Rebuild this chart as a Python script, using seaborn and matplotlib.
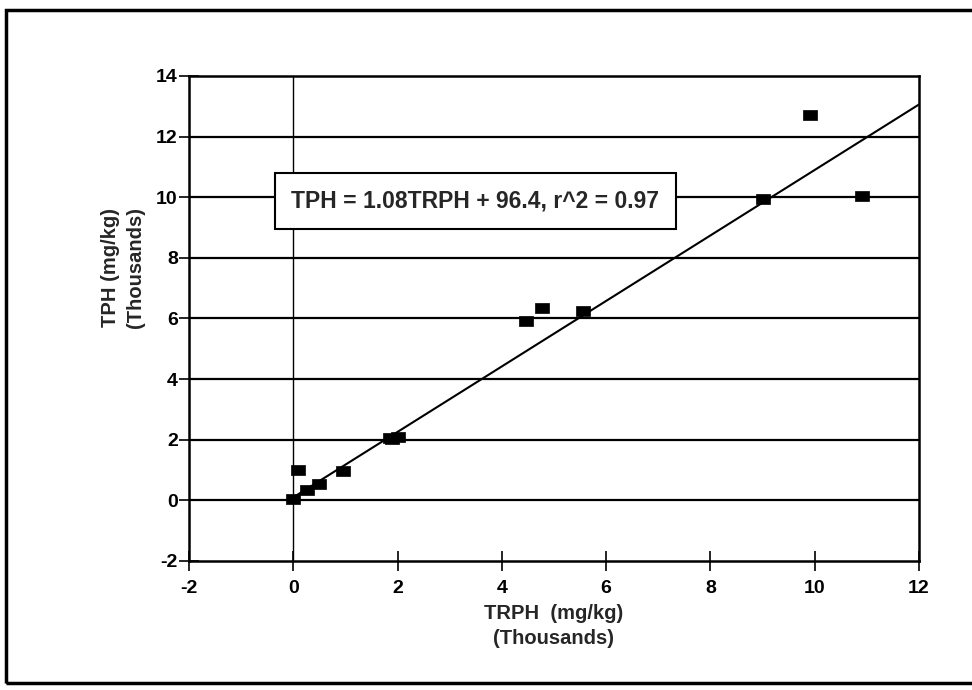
import numpy as np
import pandas as pd
import matplotlib
matplotlib.use("Agg")
import matplotlib.pyplot as plt
import seaborn as sns
from matplotlib.patches import Rectangle

# ---- data (thousands of mg/kg) ----
trph = [0.0, 0.1, 0.27, 0.5, 0.96, 1.85, 1.9, 2.0, 4.47, 4.78, 5.56, 9.01, 9.92, 10.91]
tph = [0.05, 1.0, 0.33, 0.55, 0.97, 2.05, 2.03, 2.1, 5.9, 6.35, 6.25, 9.95, 12.7, 10.05]
fit_slope = 1.08
fit_intercept = 0.0964
fit_range = [0.0, 12.0]
x_ticks = [-2, 0, 2, 4, 6, 8, 10, 12]
y_ticks = [-2, 0, 2, 4, 6, 8, 10, 12, 14]
equation = "TPH = 1.08TRPH + 96.4, r^2 = 0.97"

sns.set_style("white")
plt.rcParams['font.family'] = ['Liberation Sans', 'DejaVu Sans']
plt.rcParams['font.weight'] = 'bold'

fig = plt.figure(figsize=(9.72, 6.9), dpi=100)
ax = fig.add_axes([0.1944, 0.187, 0.751, 0.703])

# outer frame
fig.patches.append(Rectangle((0.006, 0.010), 1.2, 0.975, transform=fig.transFigure,
                             fill=False, edgecolor='black', linewidth=2.5))

# gridlines
for yv in y_ticks[1:-1]:
    ax.axhline(yv, color='black', linewidth=1.6, zorder=1)
ax.axvline(0, color='black', linewidth=1.0, zorder=1)

# regression line
fx = np.array(fit_range)
fy = fit_slope * fx + fit_intercept
sns.lineplot(x=fx, y=fy, color='black', linewidth=1.5, ax=ax, zorder=2)

rect_marker = [(-1.3, -1.0), (1.3, -1.0), (1.3, 1.0), (-1.3, 1.0), (-1.3, -1.0)]
df = pd.DataFrame({'TRPH': trph, 'TPH': tph})
sns.scatterplot(data=df, x='TRPH', y='TPH', marker=rect_marker, s=105, color='black',
                edgecolor='black', linewidth=0.5, ax=ax, zorder=3)

ax.set_xlim(-2, 12)
ax.set_ylim(-2, 14)
ax.set_xticks(x_ticks)
ax.set_yticks(y_ticks)
ax.set_xticklabels([str(v) for v in x_ticks], fontsize=14, fontweight='bold')
ax.set_yticklabels([str(v) for v in y_ticks], fontsize=14, fontweight='bold')
ax.tick_params(axis='both', direction='inout', length=14, width=1.2, colors='black',
               left=True, bottom=True)
ax.tick_params(axis='y', pad=1)
ax.tick_params(axis='x', pad=7)
for sp in ax.spines.values():
    sp.set_color('black')
    sp.set_linewidth(1.8)

ax.set_xlabel("TRPH  (mg/kg)\n(Thousands)", fontsize=14.5, fontweight='bold',
              linespacing=1.4, va='center')
ax.xaxis.set_label_coords(0.5, -0.134)
ax.set_ylabel("TPH (mg/kg)\n(Thousands)", fontsize=14.5, fontweight='bold',
              linespacing=1.4, va='center')
ax.yaxis.set_label_coords(-0.09, 0.604)

ax.text(3.49, 9.88, equation, ha='center', va='center', fontsize=16.5, fontweight='bold',
        zorder=5,
        bbox=dict(boxstyle='square,pad=0.72', facecolor='white', edgecolor='black',
                  linewidth=1.5))

fig.savefig('out.png', dpi=100)
